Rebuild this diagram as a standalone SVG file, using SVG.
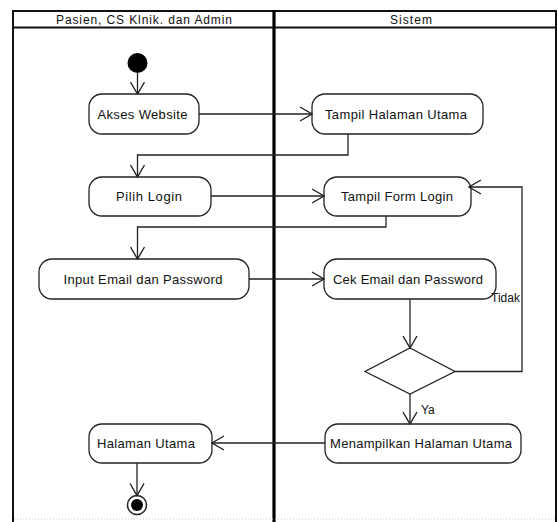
<svg xmlns="http://www.w3.org/2000/svg" width="558" height="522" viewBox="0 0 558 522">
<defs>
<style>
.frame{fill:none;stroke:#111;stroke-width:2}
.div{stroke:#000;stroke-width:3.2}
.node rect{fill:#fff;stroke:#222;stroke-width:1.3}
.lbl{font-family:"Liberation Sans",Arial,sans-serif;font-size:13px;fill:#111;text-anchor:middle}
.hdr{font-family:"Liberation Sans",Arial,sans-serif;font-size:12px;fill:#111;text-anchor:middle}
.small{font-family:"Liberation Sans",Arial,sans-serif;font-size:12px;fill:#111}
.edge{fill:none;stroke:#222;stroke-width:1.3}
</style>
<marker id="arr" viewBox="0 0 14 16" refX="13" refY="8" markerWidth="14" markerHeight="16" markerUnits="userSpaceOnUse" orient="auto">
<path d="M1,1 L13,8 L1,15" fill="none" stroke="#222" stroke-width="1.4"/>
</marker>
</defs>
<rect width="558" height="522" fill="#fff"/>
<g id="swimlanes">
<path class="frame" d="M13,522 V11 H556 V522"/>
<line x1="13" y1="27.5" x2="556" y2="27.5" stroke="#111" stroke-width="2"/>
<line class="div" x1="274" y1="10" x2="274" y2="522"/>
<line x1="14" y1="519" x2="555" y2="519" stroke="#ccc" stroke-width="1" stroke-dasharray="1,2"/>
<text class="hdr" x="144" y="23.5" textLength="176" lengthAdjust="spacing">Pasien, CS Klnik. dan Admin</text>
<text class="hdr" x="411" y="23.5" textLength="42" lengthAdjust="spacing">Sistem</text>
</g>
<g id="start"><circle cx="137.5" cy="63" r="10" fill="#000"/></g>
<g id="n_akses" class="node"><rect x="89" y="94" width="110" height="40" rx="13"/><text class="lbl" x="142.5" y="118.5" textLength="90" lengthAdjust="spacing">Akses Website</text></g>
<g id="n_tampil_hu" class="node"><rect x="312" y="94" width="171" height="40" rx="13"/><text class="lbl" x="396" y="118.5" textLength="142" lengthAdjust="spacing">Tampil Halaman Utama</text></g>
<g id="n_pilih" class="node"><rect x="89" y="177" width="122" height="39" rx="13"/><text class="lbl" x="149" y="201" textLength="66" lengthAdjust="spacing">Pilih  Login</text></g>
<g id="n_tampil_form" class="node"><rect x="324" y="177" width="147" height="39" rx="13"/><text class="lbl" x="397" y="201" textLength="112" lengthAdjust="spacing">Tampil Form Login</text></g>
<g id="n_input" class="node"><rect x="39" y="259" width="210" height="40" rx="13"/><text class="lbl" x="143" y="283.5" textLength="159" lengthAdjust="spacing">Input Email dan Password</text></g>
<g id="n_cek" class="node"><rect x="324" y="259" width="172" height="40" rx="13"/><text class="lbl" x="408" y="283.5" textLength="150" lengthAdjust="spacing">Cek Email dan Password</text></g>
<g id="n_decision"><polygon points="410,348 455,371.5 410,394 365,371.5" fill="#fff" stroke="#222" stroke-width="1.3"/></g>
<g id="n_menampilkan" class="node"><rect x="325" y="424" width="196" height="39" rx="13"/><text class="lbl" x="421" y="448" textLength="182" lengthAdjust="spacing">Menampilkan Halaman Utama</text></g>
<g id="n_halaman" class="node"><rect x="89" y="424" width="123" height="39" rx="13"/><text class="lbl" x="146" y="448" textLength="98" lengthAdjust="spacing">Halaman Utama</text></g>
<g id="end"><circle cx="137" cy="505" r="9.5" fill="#fff" stroke="#222" stroke-width="1.5"/><circle cx="137" cy="505" r="6" fill="#000"/></g>
<g id="connectors">
<path class="edge" marker-end="url(#arr)" d="M137.5,73 V94"/>
<path class="edge" marker-end="url(#arr)" d="M199,114 H312"/>
<path class="edge" marker-end="url(#arr)" d="M348,134 V155 H137.5 V177"/>
<path class="edge" marker-end="url(#arr)" d="M211,196 H324"/>
<path class="edge" marker-end="url(#arr)" d="M386,216 V227 H137.5 V259"/>
<path class="edge" marker-end="url(#arr)" d="M249,279 H324"/>
<path class="edge" marker-end="url(#arr)" d="M410,299 V348"/>
<path class="edge" marker-end="url(#arr)" d="M455,371.5 H522 V187 H469"/>
<path class="edge" marker-end="url(#arr)" d="M410,394 V424"/>
<path class="edge" marker-end="url(#arr)" d="M325,443 H212"/>
<path class="edge" marker-end="url(#arr)" d="M137,463 V495.5"/>
<text class="small" x="491" y="302">Tidak</text>
<text class="small" x="421" y="414">Ya</text>
</g>
</svg>
